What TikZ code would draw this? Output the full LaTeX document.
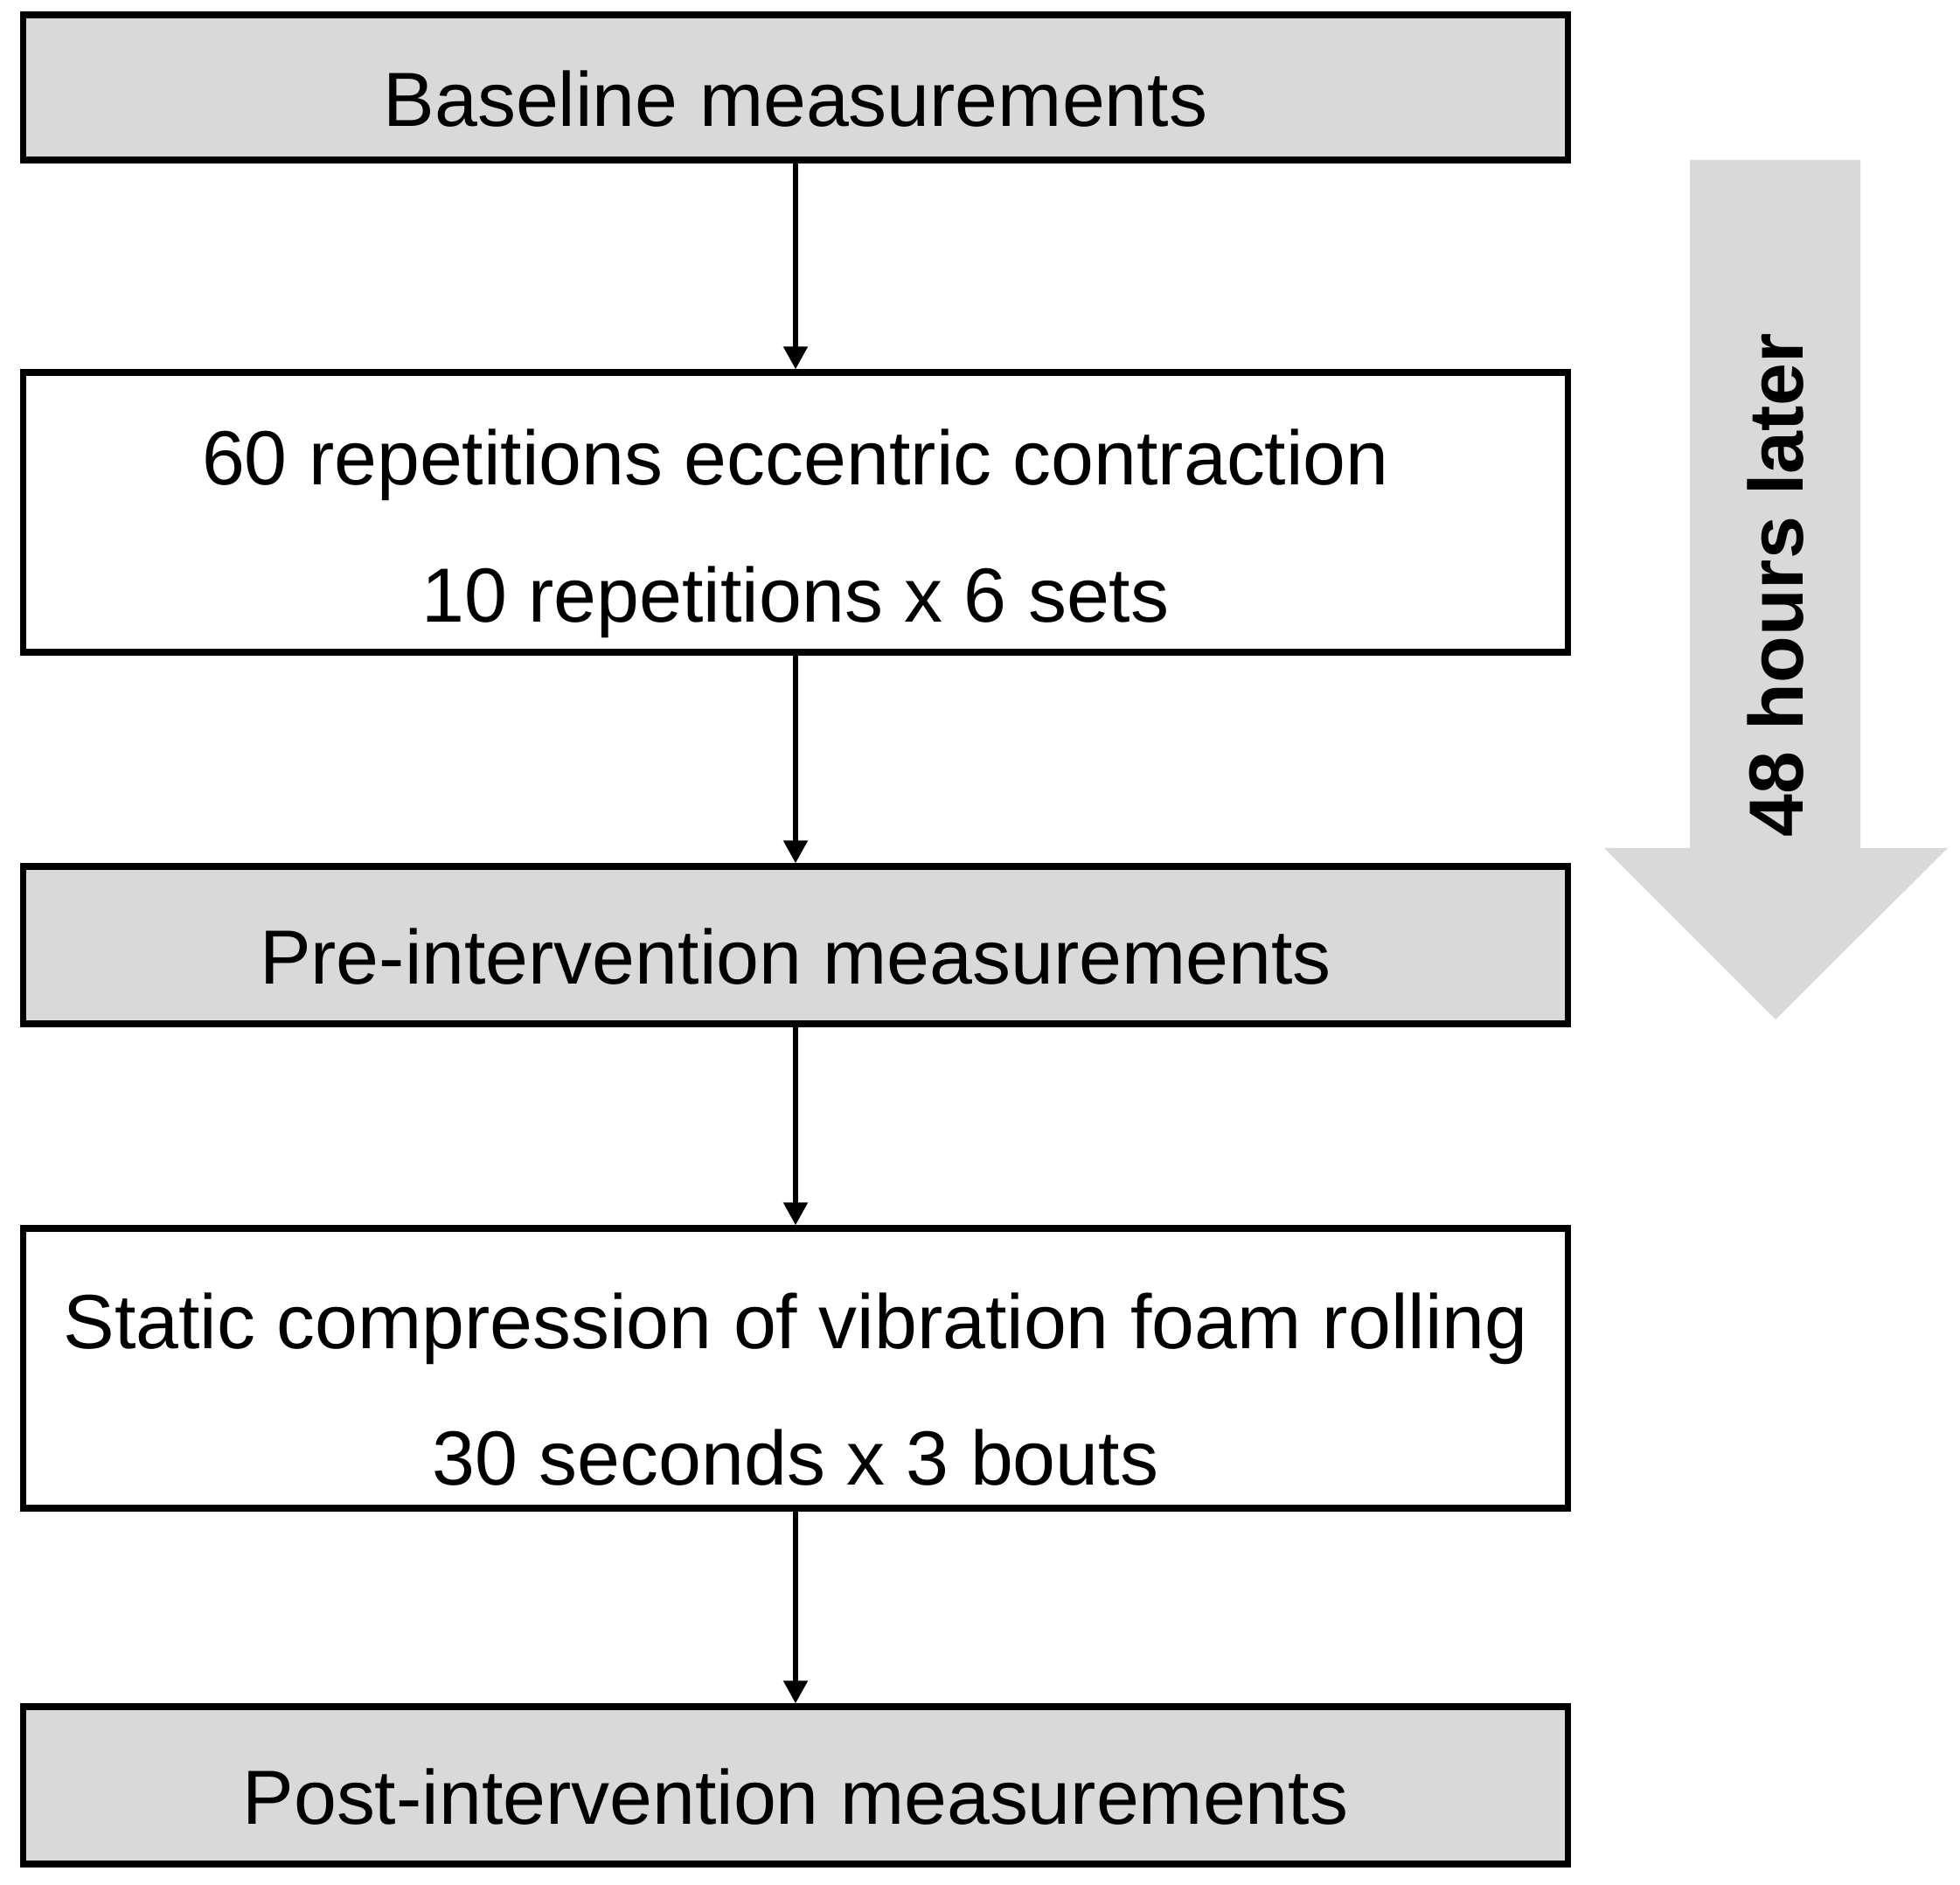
\documentclass[tikz,border=0pt]{standalone}
\usepackage{fontspec}
\setmainfont{Liberation Sans}
\usetikzlibrary{arrows.meta}
\definecolor{boxgray}{HTML}{D9D9D9}
\newcommand{\upstrut}{\rule{0pt}{1.12cm}}

\begin{document}
\begin{tikzpicture}[
    every node/.style = {font=\fontsize{25}{44.6}\selectfont},
    stage/.style = {draw, line width=2.1pt, minimum width=17.67cm, inner sep=0pt, align=center},
    measure/.style = {stage, fill=boxgray, minimum height=1.66cm,
      execute at begin node={\rule{0pt}{0.9cm}}},
    treat/.style = {stage, fill=white, minimum height=3.2cm},
    conn/.style = {line width=1.5pt, -{Triangle[length=0.26cm, width=0.27cm]}}
  ]
  \useasboundingbox (0,0) rectangle (22.42,21.55);

  \node[measure] (base) at (9.1,20.55) {Baseline measurements};
  \node[treat] (ecc) at (9.1,15.69) {\upstrut 60 repetitions eccentric contraction\\10 repetitions x 6 sets};
  \node[measure, minimum height=1.8cm] (pre) at (9.1,10.74) {Pre-intervention measurements};
  \node[treat] (vfr) at (9.1,5.90) {\upstrut Static compression of vibration foam rolling\\30 seconds x 3 bouts};
  \node[measure, minimum height=1.8cm] (post) at (9.1,1.13) {Post-intervention measurements};

  \draw[conn] (base) -- (ecc);
  \draw[conn] (ecc) -- (pre);
  \draw[conn] (pre) -- (vfr);
  \draw[conn] (vfr) -- (post);

  % 48 h arrow
  \fill[boxgray] (19.33,19.72) -- (21.28,19.72) -- (21.28,11.85) -- (22.28,11.85)
    -- (20.31,9.89) -- (18.35,11.85) -- (19.33,11.85) -- cycle;
  \node[rotate=90, font=\fontsize{25}{30}\selectfont\bfseries] (later) at (20.31,14.86) {48 hours later};
\end{tikzpicture}
\end{document}
